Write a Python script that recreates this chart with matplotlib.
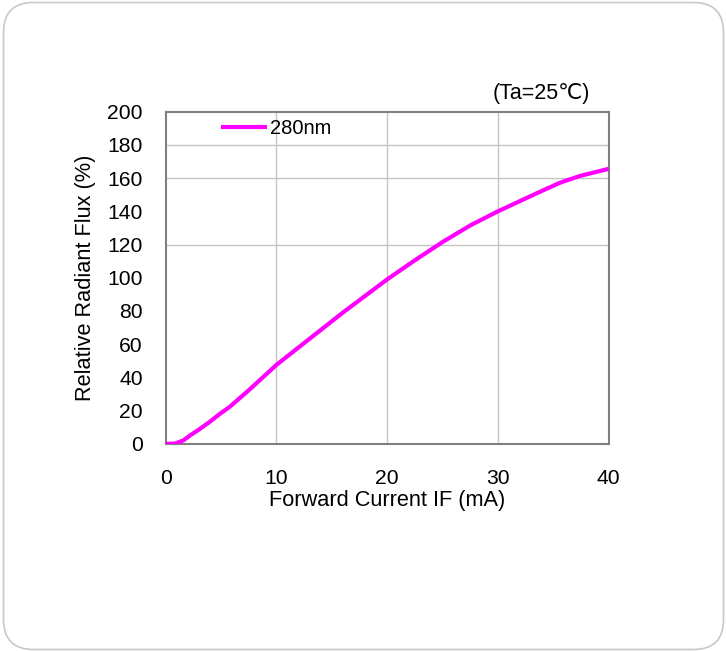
import matplotlib
matplotlib.use("Agg")
import matplotlib.pyplot as plt
from matplotlib.patches import FancyBboxPatch

# forward current (mA) vs relative radiant flux (%)
current = [0, 0.8, 1.6, 2.2, 3, 4, 5, 5.8, 7.6, 10, 12, 14, 16, 18, 20,
           22.5, 25, 27.5, 30, 32, 34, 35.6, 37.4, 40]
flux = [0, 0, 2, 5, 8.5, 13.3, 18.5, 22.3, 32.8, 47.5, 58, 68.5, 79, 89, 99,
        110.5, 121.5, 131.5, 140, 146.2, 152.4, 157.2, 161.3, 165.6]

x_ticks = [0, 10, 20, 30, 40]
y_ticks = [0, 20, 40, 60, 80, 100, 120, 140, 160, 180, 200]
x_grid = [10, 20, 30]
y_grid = [120, 160, 180]

plt.rcParams['font.family'] = ['Liberation Sans', 'DejaVu Sans']

fig = plt.figure(figsize=(7.26, 6.51), dpi=100)

# rounded border round the whole picture
border = FancyBboxPatch((3.5, 1.5), 720, 647,
                        boxstyle="round,pad=0,rounding_size=30",
                        transform=None, facecolor='white',
                        edgecolor='#c8c8c8', linewidth=1.2, zorder=-10)
fig.patches.append(border)

ax = fig.add_axes([0.2282, 0.3184, 0.6102, 0.51])

for gx in x_grid:
    ax.axvline(gx, color='#c4c4c4', lw=1.0, zorder=1)
for gy in y_grid:
    ax.axhline(gy, color='#c4c4c4', lw=1.0, zorder=1)

ax.plot(current, flux, color='#ff00ff', lw=3.0, label='280nm', zorder=3,
        solid_joinstyle='round', solid_capstyle='butt')

ax.set_xlim(0, 40)
ax.set_ylim(0, 200)
ax.set_xticks(x_ticks)
ax.set_yticks(y_ticks)
ax.tick_params(axis='both', length=0, labelsize=15.2)
ax.tick_params(axis='y', pad=16.5)
ax.tick_params(axis='x', pad=18)

for s in ax.spines.values():
    s.set_color('#808080')
    s.set_linewidth(1.5)

ax.set_xlabel('Forward Current IF (mA)', fontsize=15.7, labelpad=2)
ax.set_ylabel('Relative Radiant Flux (%)', fontsize=15.7, labelpad=8)

ax.text(0.958, 1.056, '(Ta=25℃)', transform=ax.transAxes,
        ha='right', va='center', fontsize=15.5)

ax.legend(loc='center left', bbox_to_anchor=(0.125, 0.949), frameon=False,
          borderpad=0, borderaxespad=0, handlelength=2.3,
          handletextpad=0.15, fontsize=14.5)

fig.savefig('out.png', dpi=100)
